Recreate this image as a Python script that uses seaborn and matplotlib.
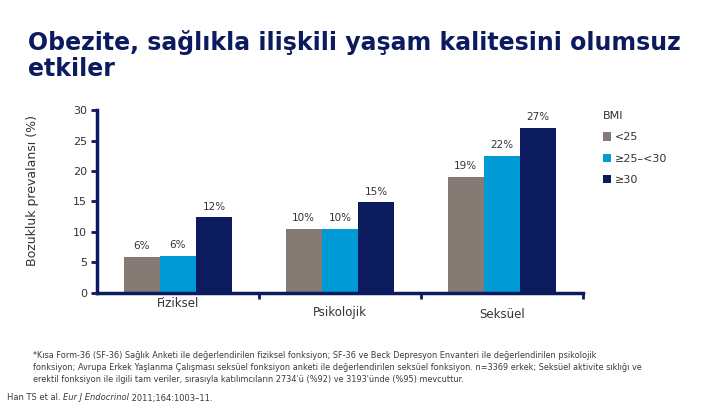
import matplotlib
matplotlib.use("Agg")
import matplotlib.pyplot as plt
import seaborn as sns
import pandas as pd

categories = ["Fiziksel", "Psikolojik", "Seksüel"]
bmi_groups = ["<25", "≥25–<30", "≥30"]
values_lt25 = [5.9, 10.5, 19.1]
values_25_30 = [6.1, 10.5, 22.5]
values_ge30 = [12.4, 14.9, 27.1]
labels_lt25 = ["6%", "10%", "19%"]
labels_25_30 = ["6%", "10%", "22%"]
labels_ge30 = ["12%", "15%", "27%"]
yticks = [0, 5, 10, 15, 20, 25, 30]

title = "Obezite, sağlıkla ilişkili yaşam kalitesini olumsuz\netkiler"
ylabel = "Bozukluk prevalansı (%)"
legend_title = "BMI"
footnote = ("*Kısa Form-36 (SF-36) Sağlık Anketi ile değerlendirilen fiziksel fonksiyon; SF-36 ve Beck Depresyon Envanteri ile değerlendirilen psikolojik\n"
            "fonksiyon; Avrupa Erkek Yaşlanma Çalışması seksüel fonksiyon anketi ile değerlendirilen seksüel fonksiyon. n=3369 erkek; Seksüel aktivite sıklığı ve\n"
            "erektil fonksiyon ile ilgili tam veriler, sırasıyla katılımcıların 2734'ü (%92) ve 3193'ünde (%95) mevcuttur.")
ref_parts = ["Han TS et al. ", "Eur J Endocrinol", " 2011;164:1003–11."]

colors = ["#857b74", "#009ad6", "#0c1b5e"]
navy = "#0c1b5e"
text_gray = "#333333"

rows = []
for g, vals in zip(bmi_groups, [values_lt25, values_25_30, values_ge30]):
    for c, v in zip(categories, vals):
        rows.append({"cat": c, "bmi": g, "val": v})
df = pd.DataFrame(rows)

sns.set_theme(style="white")
plt.rcParams['font.family'] = ['DejaVu Sans']

fig = plt.figure(figsize=(7.2, 4.05), dpi=100)
ax = fig.add_axes([0.1347, 0.2773, 0.675, 0.4504])

sns.barplot(data=df, x="cat", y="val", hue="bmi", order=categories,
            hue_order=bmi_groups, palette=dict(zip(bmi_groups, colors)),
            width=0.67, saturation=1, ax=ax, errorbar=None,
            linewidth=0, edgecolor="none")

for cont, labs in zip(ax.containers, [labels_lt25, labels_25_30, labels_ge30]):
    ax.bar_label(cont, labels=labs, padding=4, fontsize=7.5, color=text_gray)

ax.set_xlim(-0.5, 2.5)
ax.set_ylim(0, 30)
ax.set_yticks(yticks)
ax.set_yticklabels([str(t) for t in yticks], fontsize=8, color=text_gray)
ax.tick_params(axis="y", direction="out", length=4, width=2, color=navy, pad=3, left=True)

ax.set_xticks(range(len(categories)))
ax.set_xticklabels([])
ax.tick_params(axis="x", which="major", length=0)
ax.set_xticks([0.5, 1.5, 2.5], minor=True)
ax.tick_params(axis="x", which="minor", direction="out", length=4, width=2, color=navy, bottom=True)

offsets = [-0.06, -0.11, -0.12]
for i, (c, off) in enumerate(zip(categories, offsets)):
    ax.text(i, off, c, transform=ax.get_xaxis_transform(), ha="center", va="center",
            fontsize=8.5, color=text_gray)

ax.set_xlabel("")
ax.set_ylabel(ylabel, fontsize=9, color=text_gray)
ax.yaxis.set_label_coords(-0.12, 0.56)

for s in ["top", "right"]:
    ax.spines[s].set_visible(False)
for s in ["left", "bottom"]:
    ax.spines[s].set_color(navy)
    ax.spines[s].set_linewidth(2.5)

handles, labs = ax.get_legend_handles_labels()
if ax.get_legend() is not None:
    ax.get_legend().remove()
leg = fig.legend(handles, labs, title=legend_title, loc="upper left",
                 bbox_to_anchor=(0.823, 0.75), frameon=False, fontsize=8,
                 title_fontsize=8, handlelength=0.8, handleheight=0.8,
                 handletextpad=0.3, labelspacing=1.0, alignment="left")
for t in leg.get_texts():
    t.set_color(text_gray)
leg.get_title().set_color(text_gray)

fig.text(0.039, 0.925, title, fontsize=17, fontweight="bold", color=navy,
         ha="left", va="top", linespacing=1.1)

fig.text(0.046, 0.133, footnote, fontsize=5.9, color="#3a3a3a", ha="left", va="top",
         linespacing=1.4)

renderer = fig.canvas.get_renderer()
x = 7
y = 405 - 398
styles = ["normal", "italic", "normal"]
for part, st in zip(ref_parts, styles):
    t = fig.text(x / 720, y / 405, part, fontsize=6, color="#3a3a3a", ha="left",
                 va="center", style=st)
    bb = t.get_window_extent(renderer=renderer)
    x = bb.x1

fig.savefig("out.png", dpi=100)
